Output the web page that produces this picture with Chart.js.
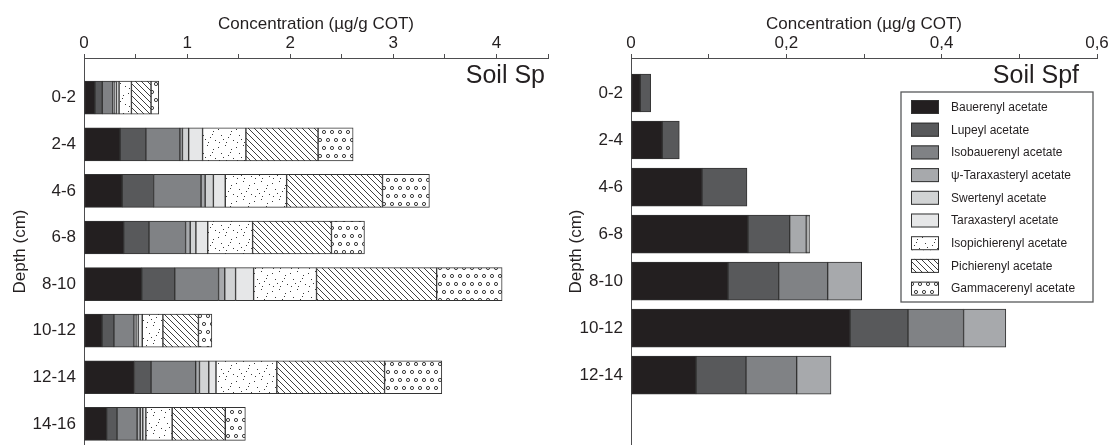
<!DOCTYPE html>
<html>
<head>
<meta charset="utf-8">
<script src="https://cdn.jsdelivr.net/npm/chart.js@4.4.0/dist/chart.umd.min.js"></script>
<style>
  html, body { margin: 0; padding: 0; background: #fff; }
  #wrap { position: relative; width: 1109px; height: 445px; overflow: hidden; }
  .panel { position: absolute; top: 0; }
  #left { left: 0; }
  #right { left: 560px; }
</style>
</head>
<body>
<div id="wrap">
  <div class="panel" id="left"><canvas id="spChart" width="560" height="445"></canvas></div>
  <div class="panel" id="right"><canvas id="spfChart" width="549" height="445"></canvas></div>
</div>
<script>
const seriesNames = [
    'Bauerenyl acetate', 'Lupeyl acetate', 'Isobauerenyl acetate', 'ψ-Taraxasteryl acetate',
    'Swertenyl acetate', 'Taraxasteryl acetate', 'Isopichierenyl acetate', 'Pichierenyl acetate',
    'Gammacerenyl acetate'
];

const spDepths = ['0-2', '2-4', '4-6', '6-8', '8-10', '10-12', '12-14', '14-16'];
const spfDepths = ['0-2', '2-4', '4-6', '6-8', '8-10', '10-12', '12-14'];

const spTickLabels = ['0', '1', '2', '3', '4'];
const spfTickLabels = ['0', '0,2', '0,4', '0,6'];

// Soil Sp (µg/g COT), one value per depth
const spBauerenyl    = [0.106, 0.35, 0.37, 0.385, 0.56, 0.175, 0.49, 0.22];
const spLupeyl       = [0.071, 0.25, 0.305, 0.245, 0.32, 0.115, 0.16, 0.10];
const spIsobauerenyl = [0.103, 0.33, 0.46, 0.355, 0.425, 0.195, 0.433, 0.195];
const spPsiTarax     = [0.02, 0.025, 0.04, 0.045, 0.06, 0.02, 0.037, 0.03];
const spSwertenyl    = [0.015, 0.06, 0.08, 0.055, 0.105, 0.02, 0.09, 0.025];
const spTaraxasteryl = [0.025, 0.135, 0.115, 0.115, 0.175, 0.04, 0.07, 0.03];
const spIsopich      = [0.12, 0.42, 0.595, 0.435, 0.61, 0.20, 0.59, 0.255];
const spPichierenyl  = [0.19, 0.70, 0.93, 0.765, 1.165, 0.345, 1.045, 0.515];
const spGammacerenyl = [0.075, 0.34, 0.455, 0.32, 0.635, 0.13, 0.555, 0.195];

// Soil Spf (µg/g COT), null = not detected
const spfBauerenyl    = [0.012, 0.0403, 0.0914, 0.1506, 0.1249, 0.282, 0.0837];
const spfLupeyl       = [0.0133, 0.0219, 0.0579, 0.0537, 0.0652, 0.0746, 0.0643];
const spfIsobauerenyl = [null, null, null, null, 0.0631, 0.0716, 0.0653];
const spfPsiTarax     = [null, null, null, 0.0214, 0.0438, 0.0544, 0.0442];
const spfSwertenyl    = [null, null, null, 0.0022, null, null, null];
const spfTaraxasteryl = [null, null, null, 0.0021, null, null, null];
const spfIsopich      = [null, null, null, null, null, null, null];
const spfPichierenyl  = [null, null, null, null, null, null, null];
const spfGammacerenyl = [null, null, null, null, null, null, null];

const FONT = '"Liberation Sans", Arial, Helvetica, sans-serif';
const textColor = '#231f20';
const axisColor = '#4d4d4f';
const edgeColor = '#333333';

Chart.defaults.font.family = FONT;
Chart.defaults.color = textColor;

function makePattern(w, h, draw) {
    const c = document.createElement('canvas');
    c.width = w;
    c.height = h;
    const g = c.getContext('2d');
    g.fillStyle = '#ffffff';
    g.fillRect(0, 0, w, h);
    draw(g);
    return g.createPattern(c, 'repeat');
}

// stipple for isopichierenyl
const dotsFill = makePattern(18, 18, g => {
    g.fillStyle = '#3a3a3a';
    [[2, 3], [9, 1], [15, 5], [5, 9], [12, 11], [17, 14], [3, 16], [10, 16], [7, 13], [14, 8]]
        .forEach(p => g.fillRect(p[0], p[1], 1, 1));
});

// diagonal hatch for pichierenyl
const hatchFill = makePattern(6, 6, g => {
    g.strokeStyle = '#2a2a2a';
    g.lineWidth = 0.9;
    [-6, 0, 6].forEach(o => {
        g.beginPath();
        g.moveTo(o, 0);
        g.lineTo(o + 6, 6);
        g.stroke();
    });
});

// small circles for gammacerenyl
const circleFill = makePattern(16, 16, g => {
    g.strokeStyle = '#2a2a2a';
    g.lineWidth = 0.9;
    [[4, 4], [12, 4], [0, 12], [8, 12], [16, 12]].forEach(p => {
        g.beginPath();
        g.arc(p[0], p[1], 1.6, 0, Math.PI * 2);
        g.stroke();
    });
});

const fills = ['#231f20', '#58595b', '#808285', '#a7a9ac', '#d1d3d4', '#e6e7e8', dotsFill, hatchFill, circleFill];

const cornerLabel = {
    id: 'cornerLabel',
    afterDraw(chart, args, opts) {
        const ctx = chart.ctx;
        ctx.save();
        ctx.font = '25px ' + FONT;
        ctx.fillStyle = textColor;
        ctx.textAlign = 'right';
        ctx.textBaseline = 'alphabetic';
        ctx.fillText(opts.text, chart.chartArea.right - opts.inset, chart.chartArea.top + opts.drop);
        ctx.restore();
    }
};

const legendBox = {
    id: 'legendBox',
    afterDraw(chart, args, opts) {
        if (!opts.show) return;
        const ctx = chart.ctx;
        const left = chart.chartArea.right - opts.fromRight;
        ctx.save();
        ctx.strokeStyle = '#58595b';
        ctx.lineWidth = 1.3;
        ctx.strokeRect(left, opts.top, opts.width, opts.height);
        ctx.font = '12px ' + FONT;
        ctx.textBaseline = 'middle';
        ctx.textAlign = 'left';
        chart.data.datasets.forEach((ds, i) => {
            const cy = opts.firstRow + i * opts.rowStep;
            ctx.fillStyle = ds.backgroundColor;
            ctx.fillRect(left + 10, cy - 7, 28, 14);
            ctx.strokeStyle = edgeColor;
            ctx.lineWidth = 1;
            ctx.strokeRect(left + 10.5, cy - 6.5, 27, 13);
            ctx.fillStyle = textColor;
            ctx.fillText(ds.label, left + 50, cy + 0.5);
        });
        ctx.restore();
    }
};

function buildChart(canvasId, depths, values, cfg) {
    const datasets = seriesNames.map((name, s) => ({
        label: name,
        data: values[s].map((v, i) => ({ x: v, y: i })),
        backgroundColor: fills[s],
        borderColor: edgeColor,
        borderWidth: 1,
        borderSkipped: false,
        barThickness: cfg.barThickness,
        grouped: false
    }));

    return new Chart(document.getElementById(canvasId), {
        type: 'bar',
        data: { datasets: datasets },
        options: {
            indexAxis: 'y',
            responsive: false,
            animation: false,
            layout: { padding: { left: 0, right: cfg.padRight, top: 0, bottom: 0 } },
            scales: {
                x: {
                    type: 'linear',
                    position: 'top',
                    stacked: true,
                    min: 0,
                    max: cfg.xMax,
                    ticks: {
                        stepSize: cfg.step,
                        autoSkip: false,
                        maxRotation: 0,
                        padding: 0,
                        font: { size: 17 },
                        callback: (v, i) => (i % 2 === 0 ? cfg.tickLabels[i / 2] : '')
                    },
                    grid: { drawOnChartArea: false, drawTicks: true, tickLength: 4, color: axisColor },
                    border: { display: true, color: axisColor, width: 1 },
                    title: {
                        display: true,
                        text: 'Concentration (µg/g COT)',
                        font: { size: 17 },
                        padding: { top: 14, bottom: 0 }
                    },
                    afterFit: scale => {
                        scale.height = 58;
                        scale.paddingLeft = 0;
                        scale.paddingRight = 0;
                    }
                },
                y: {
                    type: 'linear',
                    reverse: true,
                    offset: false,
                    min: cfg.yMin,
                    max: cfg.yMax,
                    afterBuildTicks: scale => {
                        scale.ticks = depths.map((d, i) => ({ value: i }));
                    },
                    ticks: {
                        autoSkip: false,
                        padding: 8,
                        font: { size: 17 },
                        callback: v => depths[v]
                    },
                    grid: { display: false, drawTicks: false, offset: false },
                    border: { display: true, color: axisColor, width: 1 },
                    title: {
                        display: true,
                        text: 'Depth (cm)',
                        font: { size: 17 },
                        padding: { top: cfg.titlePad, bottom: 0 }
                    },
                    afterFit: scale => {
                        scale.width = cfg.yWidth;
                        scale.paddingTop = 0;
                        scale.paddingBottom = 0;
                    }
                }
            },
            plugins: {
                legend: { display: false },
                tooltip: { enabled: false },
                cornerLabel: { text: cfg.label, inset: cfg.labelInset, drop: 25 },
                legendBox: {
                    show: cfg.legend, fromRight: 196, top: 92, width: 192, height: 210,
                    firstRow: 107, rowStep: 22.7
                }
            }
        },
        plugins: [cornerLabel, legendBox]
    });
}

buildChart('spChart', spDepths,
    [spBauerenyl, spLupeyl, spIsobauerenyl, spPsiTarax, spSwertenyl, spTaraxasteryl, spIsopich, spPichierenyl, spGammacerenyl],
    {
        xMax: 4.5, step: 0.5, tickLabels: spTickLabels, yMin: -0.852, yMax: 7.453,
        yWidth: 84, padRight: 12, barThickness: 33, titlePad: 10,
        label: 'Soil Sp', labelInset: 3, legend: false
    });

buildChart('spfChart', spfDepths,
    [spfBauerenyl, spfLupeyl, spfIsobauerenyl, spfPsiTarax, spfSwertenyl, spfTaraxasteryl, spfIsopich, spfPichierenyl, spfGammacerenyl],
    {
        xMax: 0.6, step: 0.1, tickLabels: spfTickLabels, yMin: -0.744, yMax: 7.485,
        yWidth: 71, padRight: 12, barThickness: 38, titlePad: 6,
        label: 'Soil Spf', labelInset: 18, legend: true
    });
</script>
</body>
</html>
